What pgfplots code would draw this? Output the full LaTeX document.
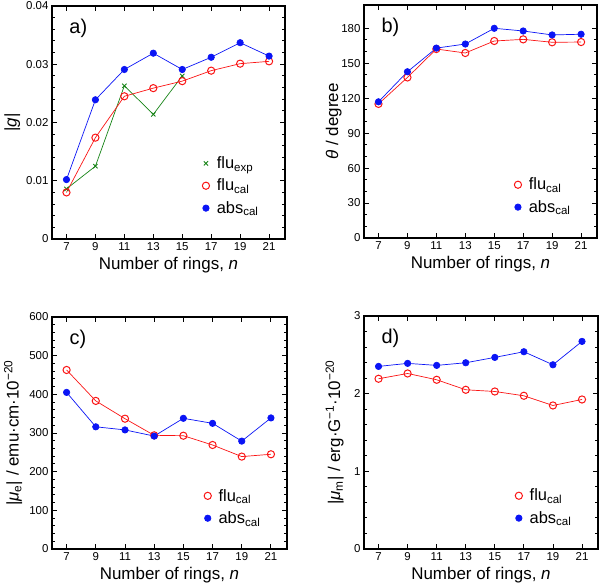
\documentclass[border=0pt]{standalone}
\usepackage{fontspec}
\setmainfont{Liberation Sans}
\usepackage{pgfplots}
\pgfplotsset{compat=1.18}
\definecolor{myred}{RGB}{250,20,20}
\definecolor{myblue}{RGB}{10,20,245}
\definecolor{mygreen}{RGB}{20,130,20}
\tikzset{plabel/.style={font=\fontsize{20}{22}\selectfont, anchor=west}}
\pgfplotsset{
  panel/.style={
    scale only axis, width=233bp, height=233bp,
    xmin=6, xmax=22.1, ymin=0,
    xtick={7,9,...,21},
    scaled y ticks=false,
    axis line style={line width=1.4pt},
    tick style={line width=0.9pt, black},
    major tick length=5bp, minor tick length=3bp,
    tick align=inside,
    /pgf/number format/assume math mode=true,
    ticklabel style={font=\fontsize{11.5}{13}\selectfont},
    label style={font=\fontsize{17}{19}\selectfont},
    xlabel={Number of rings, \textit{n}},
    xlabel style={at={(axis description cs:0.5,-0.112)}, anchor=center},
    legend style={draw=none, fill=none, font=\fontsize{16.5}{18}\selectfont,
      row sep=5bp, legend cell align=left, inner sep=1pt,
      at={(0.9,0.09)}, anchor=south east},
    legend image code/.code={\draw[#1] plot coordinates {(0cm,0cm)}; \path (0.3cm,0cm);},
  },
  fluexp/.style={mygreen, line width=0.7pt, mark=x, mark size=3bp, mark options={line width=0.9pt}},
  flucal/.style={myred, line width=0.7pt, mark=o, mark size=3.6bp, mark options={line width=1pt, fill=white}},
  abscal/.style={myblue, line width=0.7pt, mark=*, mark size=3.2bp},
}
\begin{document}
\begin{tikzpicture}
\path[use as bounding box] (0bp,0bp) rectangle (600bp,585bp);
% a)
\begin{axis}[panel, at={(52bp,346bp)}, anchor=south west,
  ymax=0.04, ytick={0,0.01,0.02,0.03,0.04}, yticklabels={0,0.01,0.02,0.03,0.04},
  minor y tick num=4,
  ylabel={|\textit{g}|},
  ylabel style={at={(axis description cs:-0.17,0.5)}, anchor=center}]
\addplot[fluexp, forget plot] coordinates {(7,0.0086) (9,0.0125) (11,0.0263) (13,0.0214) (15,0.0280)};
\addplot[flucal, forget plot] coordinates {(7,0.0080) (9,0.0174) (11,0.0245) (13,0.0259) (15,0.0271) (17,0.0289) (19,0.0301) (21,0.0305)};
\addplot[abscal, forget plot] coordinates {(7,0.0102) (9,0.0239) (11,0.0291) (13,0.0319) (15,0.0291) (17,0.0312) (19,0.0337) (21,0.0314)};
\addlegendimage{fluexp}\addlegendentry{flu\textsubscript{exp}}
\addlegendimage{flucal}\addlegendentry{flu\textsubscript{cal}}
\addlegendimage{abscal}\addlegendentry{abs\textsubscript{cal}}
\node[plabel] at (axis description cs:0.06,0.905) {a)};
\end{axis}
% b)
\begin{axis}[panel, at={(364bp,347bp)}, anchor=south west,
  ymax=200, ytick={0,30,...,180}, minor y tick num=2,
  ylabel={\textit{θ} / degree},
  ylabel style={at={(axis description cs:-0.13,0.5)}, anchor=center}]
\addplot[flucal, forget plot] coordinates {(7,115.1) (9,137.8) (11,162.2) (13,158.8) (15,169.1) (17,170.5) (19,168.0) (21,168.2)};
\addplot[abscal, forget plot] coordinates {(7,116.9) (9,142.7) (11,163.0) (13,166.5) (15,180.0) (17,177.7) (19,174.3) (21,174.9)};
\addlegendimage{flucal}\addlegendentry{flu\textsubscript{cal}}
\addlegendimage{abscal}\addlegendentry{abs\textsubscript{cal}}
\node[plabel] at (axis description cs:0.06,0.905) {b)};
\end{axis}
% c)
\begin{axis}[panel, at={(52bp,36bp)}, anchor=south west, width=235bp, height=232bp,
  ymax=600, ytick={0,100,...,600}, minor y tick num=4,
  ylabel={|\textit{μ}\textsubscript{e}| / emu·cm·10\textsuperscript{−20}},
  ylabel style={at={(axis description cs:-0.165,0.5)}, anchor=center}]
\addplot[flucal, forget plot] coordinates {(7,463) (9,383) (11,337) (13,294) (15,293) (17,269) (19,239) (21,245)};
\addplot[abscal, forget plot] coordinates {(7,405) (9,316) (11,308) (13,292) (15,338) (17,325) (19,279) (21,339)};
\addlegendimage{flucal}\addlegendentry{flu\textsubscript{cal}}
\addlegendimage{abscal}\addlegendentry{abs\textsubscript{cal}}
\node[plabel] at (axis description cs:0.06,0.905) {c)};
\end{axis}
% d)
\begin{axis}[panel, at={(364bp,36bp)}, anchor=south west, width=234bp, height=233bp,
  ymax=3, ytick={0,1,2,3}, minor y tick num=4,
  ylabel={|\textit{μ}\textsubscript{m}| / erg·G\textsuperscript{−1}·10\textsuperscript{−20}},
  ylabel style={at={(axis description cs:-0.125,0.5)}, anchor=center}]
\addplot[flucal, forget plot] coordinates {(7,2.192) (9,2.26) (11,2.179) (13,2.05) (15,2.028) (17,1.973) (19,1.848) (21,1.925)};
\addplot[abscal, forget plot] coordinates {(7,2.351) (9,2.39) (11,2.364) (13,2.398) (15,2.467) (17,2.54) (19,2.372) (21,2.673)};
\addlegendimage{flucal}\addlegendentry{flu\textsubscript{cal}}
\addlegendimage{abscal}\addlegendentry{abs\textsubscript{cal}}
\node[plabel] at (axis description cs:0.06,0.905) {d)};
\end{axis}
\end{tikzpicture}
\end{document}
